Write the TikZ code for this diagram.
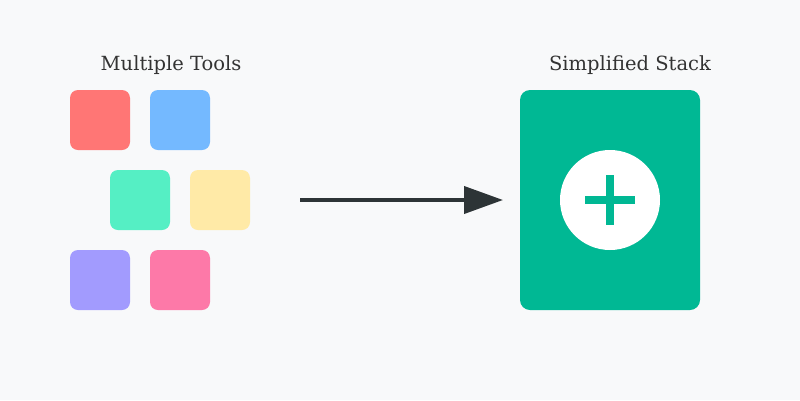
\documentclass[tikz,border=0pt]{standalone}
\usepackage{fontspec}
\setmainfont{DejaVu Serif}
\usetikzlibrary{arrows.meta}
\definecolor{bg}{HTML}{F8F9FA}
\definecolor{cred}{HTML}{FF7675}
\definecolor{cblue}{HTML}{74B9FF}
\definecolor{cgreen}{HTML}{55EFC4}
\definecolor{cyellow}{HTML}{FFEAA7}
\definecolor{cpurple}{HTML}{A29BFE}
\definecolor{cpink}{HTML}{FD79A8}
\definecolor{cteal}{HTML}{00B894}
\definecolor{cdark}{HTML}{2D3436}
\definecolor{ctext}{HTML}{333333}
\tikzset{
  tool/.style={draw=none, minimum width=60pt, minimum height=60pt, rounded corners=8pt, inner sep=0pt},
  title/.style={font=\fontsize{19.5pt}{24pt}\selectfont, text=ctext, anchor=base, inner sep=0pt},
  flow/.style={draw=cdark, line width=4pt, -{Triangle[length=39pt,width=27pt]}},
}
\begin{document}
\begin{tikzpicture}[x=1pt,y=-1pt]
  \fill[bg] (0,0) rectangle (800,400);
  \useasboundingbox (0,0) rectangle (800,400);
  \node[title] (t1) at (171,70) {Multiple Tools};
  \node[title] (t2) at (630,70) {Simplified Stack};
  \node[tool, fill=cred] (r) at (100,120) {};
  \node[tool, fill=cblue] (b) at (180,120) {};
  \node[tool, fill=cgreen] (g) at (140,200) {};
  \node[tool, fill=cyellow] (y) at (220,200) {};
  \node[tool, fill=cpurple] (p) at (100,280) {};
  \node[tool, fill=cpink] (k) at (180,280) {};
  \node[draw=none, fill=cteal, minimum width=180pt, minimum height=220pt, rounded corners=10pt, inner sep=0pt] (stack) at (610,200) {};
  \node[circle, fill=white, minimum size=100pt, inner sep=0pt] (c) at (610,200) {};
  \fill[cteal] (585,196) rectangle (635,204);
  \fill[cteal] (606,175) rectangle (614,225);
  \coordinate (a1) at (300,200);
  \coordinate (a2) at (503,200);
  \draw[flow] (a1) -- (a2);
\end{tikzpicture}
\end{document}
